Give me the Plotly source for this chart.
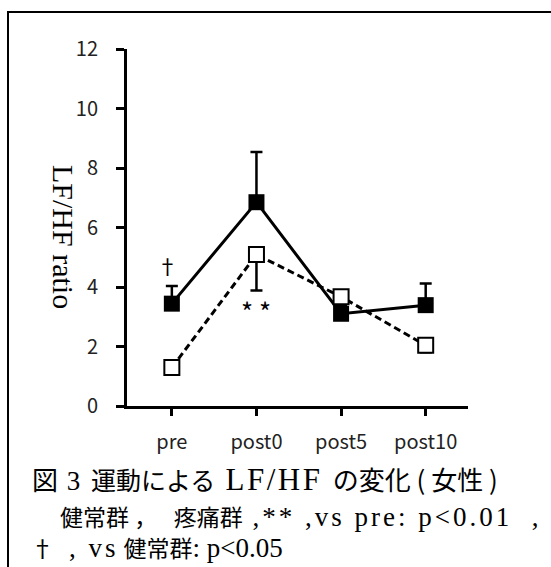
import plotly.graph_objects as go

# Data: LF/HF ratio (mean) with one-sided SE bars
categories = ["pre", "post0", "post5", "post10"]
healthy = [3.44, 6.85, 3.10, 3.39]
healthy_err = [0.59, 1.69, 0.30, 0.73]
pain = [1.29, 5.09, 3.67, 2.04]
pain_err = [0.20, 1.21, 0.30, 0.23]
y_ticks = [0, 2, 4, 6, 8, 10, 12]

W, H = 551, 567
L, R, T, B = 127, 83, 49, 161
PW, PH = W - L - R, H - T - B


def px(x):
    return (x - L) / PW


def py(y):
    return (H - B - y) / PH


SANS = "Noto Sans CJK JP"
SERIF = "Liberation Serif"
NB = "\u00a0"
xs = list(range(len(categories)))

fig = go.Figure()

fig.add_trace(go.Scatter(
    x=xs, y=healthy, mode="lines+markers", name="健常群",
    line=dict(color="black", width=3),
    marker=dict(symbol="square", size=16, color="black"),
    error_y=dict(type="data", symmetric=False, array=healthy_err,
                 arrayminus=[0] * len(healthy), color="black",
                 thickness=2.5, width=6),
))

fig.add_trace(go.Scatter(
    x=xs, y=pain, mode="lines+markers", name="疼痛群",
    line=dict(color="black", width=3, dash="7px,4px"),
    marker=dict(symbol="square", size=15, color="white",
                line=dict(color="black", width=2)),
    error_y=dict(type="data", symmetric=False, array=[0] * len(pain),
                 arrayminus=pain_err, color="black",
                 thickness=2.5, width=6),
))

annotations = [
    dict(x=-0.05, y=4.73, xref="x", yref="y", text="†", showarrow=False,
         font=dict(family=SANS, size=21, color="black")),
    dict(x=1, y=3.22, xref="x", yref="y", text="* *", showarrow=False,
         font=dict(family=SANS, size=26, color="black")),
    dict(x=px(45), y=py(236.5), xref="paper", yref="paper",
         text="LF/HF ratio", textangle=90, showarrow=False,
         font=dict(family=SERIF, size=30, color="black")),
]


def span(txt, fam, size=None, spacing=None):
    style = f"font-family:{fam}"
    if size:
        style += f";font-size:{size}px"
    if spacing:
        style += f";letter-spacing:{spacing}px"
    return f'<span style="{style}">{txt}</span>'


line1 = "".join([
    span("図", SANS, 26),
    span(" 3 ", SERIF, 27, 2),
    span("運動による", SANS, 25),
    span(" LF/HF ", SERIF, 31, 2.5),
    span(f"の変化 ({NB}女性{NB})", SANS, 26),
])
line2 = "".join([
    span("健常群 ，　 疼痛群", SANS, 23),
    span(f" ,** ,vs pre: p&lt;0.01{NB}{NB},", SERIF, 27, 3),
])
line3 = "".join([
    span(f"†{NB}", SANS, 23),
    span(f"{NB}, vs", SERIF, 27, 3),
    span(f"{NB}健常群", SANS, 23),
    span(": p&lt;0.05", SERIF, 27),
])

for txt, x0, yc in [(line1, 30, 478.5), (line2, 58, 516), (line3, 29, 547)]:
    annotations.append(dict(
        x=px(x0), y=py(yc), xref="paper", yref="paper", text=txt,
        xanchor="left", yanchor="middle", showarrow=False,
        font=dict(family=SANS, size=23, color="black")))

# Frame (left and top edges)
shapes = [dict(type="path", xref="paper", yref="paper",
               path=f"M {px(8)},{py(600)} L {px(8)},{py(12)} L {px(600)},{py(12)}",
               line=dict(color="black", width=2))]

fig.update_layout(
    width=W, height=H, margin=dict(l=L, r=R, t=T, b=B),
    paper_bgcolor="white", plot_bgcolor="white", showlegend=False,
    annotations=annotations, shapes=shapes,
    xaxis=dict(range=[-0.53, 3.5], tickvals=xs, ticktext=categories,
               showline=True, linecolor="black", linewidth=3,
               ticks="outside", ticklen=7, tickwidth=2.5, tickcolor="black",
               showgrid=False, zeroline=False, ticklabelstandoff=9,
               tickfont=dict(family=SANS, size=20, color="#222")),
    yaxis=dict(range=[0, 12], tickvals=y_ticks,
               showline=True, linecolor="black", linewidth=3,
               ticks="outside", ticklen=8, tickwidth=2.5, tickcolor="black",
               showgrid=False, zeroline=False, ticklabelstandoff=14,
               tickfont=dict(family=SANS, size=20, color="#222")),
)

fig.write_html("out.html")
